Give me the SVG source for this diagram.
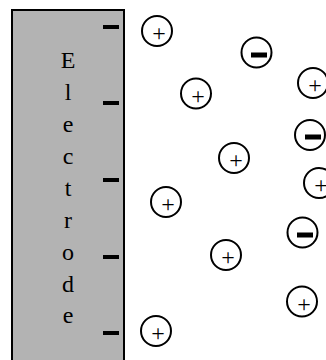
<svg xmlns="http://www.w3.org/2000/svg" width="326" height="360" viewBox="0 0 326 360">
<style>
.ion{fill:#fff;stroke:#000;stroke-width:2}
.p{font-family:"Liberation Serif","Times New Roman",serif;font-size:24px;text-anchor:middle;fill:#000}
.m{fill:#000}
.lbl{font-family:"Liberation Serif","Times New Roman",serif;font-size:24px;text-anchor:middle;fill:#000}
</style>
<rect width="326" height="360" fill="#fff"/>
<g id="electrode">
<rect x="12" y="10" width="112" height="360" fill="#b3b3b3" stroke="#000" stroke-width="2"/>
<rect x="103" y="25" width="16" height="4" class="m"/>
<rect x="103" y="101" width="16" height="4" class="m"/>
<rect x="103" y="178" width="16" height="4" class="m"/>
<rect x="103" y="255" width="16" height="4" class="m"/>
<rect x="103" y="331" width="16" height="4" class="m"/>
<text class="lbl" x="68" y="68">E</text>
<text class="lbl" x="68" y="100">l</text>
<text class="lbl" x="68" y="132">e</text>
<text class="lbl" x="68" y="164">c</text>
<text class="lbl" x="68" y="196">t</text>
<text class="lbl" x="68" y="228">r</text>
<text class="lbl" x="68" y="260">o</text>
<text class="lbl" x="68" y="292">d</text>
<text class="lbl" x="68" y="323">e</text>
</g>
<g id="p1"><circle class="ion" cx="157" cy="31" r="15"/><text class="p" x="159" y="41">+</text></g>
<g id="n1"><circle class="ion" cx="256.5" cy="52.5" r="15"/><rect class="m" x="251" y="52.5" width="16" height="5"/></g>
<g id="p2"><circle class="ion" cx="313" cy="83" r="15"/><text class="p" x="315" y="93">+</text></g>
<g id="p3"><circle class="ion" cx="196" cy="93.5" r="15"/><text class="p" x="198" y="103.5">+</text></g>
<g id="n2"><circle class="ion" cx="310" cy="135" r="15"/><rect class="m" x="305" y="134.5" width="16" height="5"/></g>
<g id="p4"><circle class="ion" cx="234" cy="158" r="15"/><text class="p" x="236" y="168">+</text></g>
<g id="p5"><circle class="ion" cx="319" cy="183" r="15"/><text class="p" x="321" y="193">+</text></g>
<g id="p6"><circle class="ion" cx="166" cy="202" r="15"/><text class="p" x="168" y="212">+</text></g>
<g id="n3"><circle class="ion" cx="302.5" cy="232.5" r="15"/><rect class="m" x="297" y="232.5" width="16" height="5"/></g>
<g id="p7"><circle class="ion" cx="226" cy="255" r="15"/><text class="p" x="228" y="265">+</text></g>
<g id="p8"><circle class="ion" cx="302" cy="301.5" r="15"/><text class="p" x="304" y="311.5">+</text></g>
<g id="p9"><circle class="ion" cx="156" cy="331" r="15"/><text class="p" x="158" y="341">+</text></g>
<g id="connectors"></g>
</svg>
